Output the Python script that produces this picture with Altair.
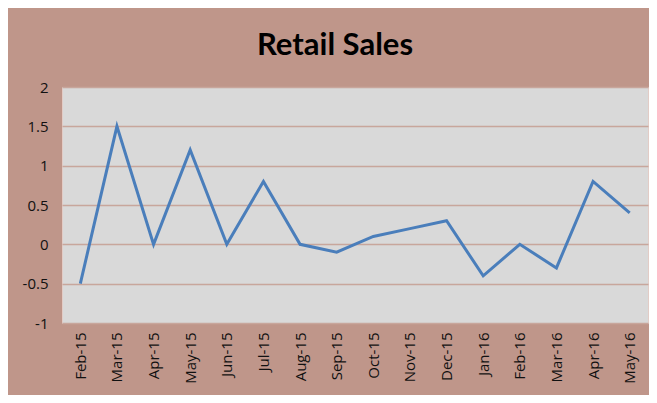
import altair as alt
import pandas as pd

months = ["Feb-15", "Mar-15", "Apr-15", "May-15", "Jun-15", "Jul-15", "Aug-15", "Sep-15",
          "Oct-15", "Nov-15", "Dec-15", "Jan-16", "Feb-16", "Mar-16", "Apr-16", "May-16"]
values = [-0.5, 1.5, 0, 1.2, 0, 0.8, 0, -0.1, 0.1, 0.2, 0.3, -0.4, 0, -0.3, 0.8, 0.4]
y_ticks = [-1, -0.5, 0, 0.5, 1, 1.5, 2]

df = pd.DataFrame({"month": months, "value": values})

chart = alt.Chart(df).mark_line(color="#4A7EBB", strokeWidth=3).encode(
    x=alt.X("month:N", sort=months,
            scale=alt.Scale(type="point", padding=0.5),
            axis=alt.Axis(title=None, labelAngle=-90, labelFontSize=15, labelColor="#111111",
                          labelFont="Open Sans", ticks=False, domain=False, grid=False,
                          labelPadding=9, labelAlign="right", labelBaseline="middle")),
    y=alt.Y("value:Q", scale=alt.Scale(domain=[-1, 2], nice=False),
            axis=alt.Axis(title=None, values=y_ticks, labelFontSize=15, labelColor="#111111",
                          labelFont="Open Sans", ticks=False, domain=False,
                          gridColor="#C8A69C", gridWidth=1.3, labelPadding=14,
                          labelExpr="'' + datum.value")),
).properties(
    width=586, height=236,
    title=alt.TitleParams("Retail Sales", fontSize=31, font="Lato", fontWeight="bold",
                          color="#000000", anchor="middle", dx=-20, offset=18),
    autosize=alt.AutoSizeParams(type="none"),
    padding={"left": 54, "top": 79, "right": 1, "bottom": 72},
    background="#BF968A",
).configure_view(fill="#D9D9D9", stroke="#E2CCC6", strokeWidth=1)

chart.save("out.html", embed_options={"renderer": "svg", "actions": False})
